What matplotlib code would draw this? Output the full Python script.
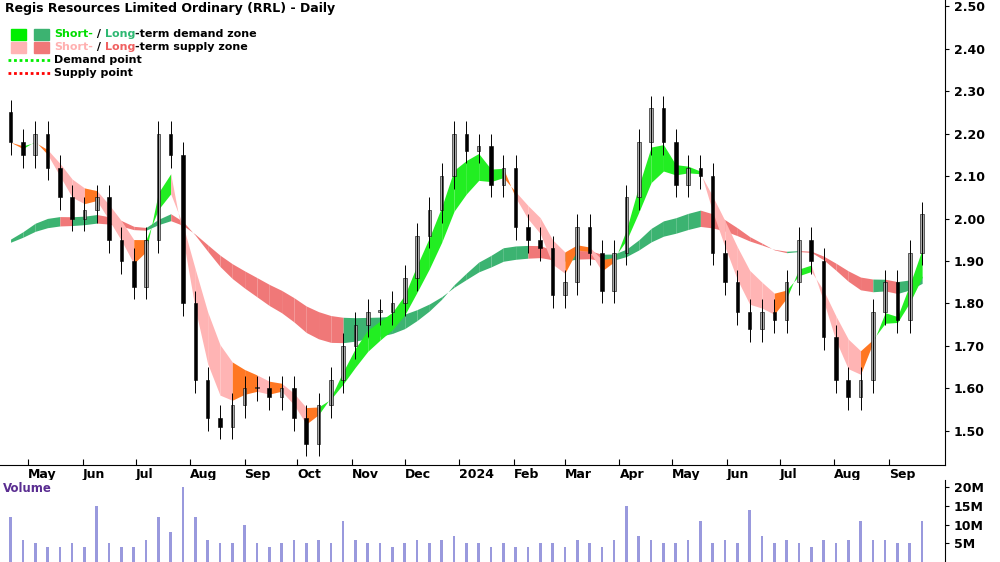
import numpy as np
import pandas as pd
import matplotlib
matplotlib.use("Agg")
import matplotlib.pyplot as plt

# weekly closes, Fridays from 21 Apr 2023
closes = [2.18, 2.15, 2.20, 2.12, 2.05, 2.00, 2.02, 2.05, 1.95, 1.90,
          1.84, 1.95, 2.20, 2.15, 1.80, 1.62, 1.53, 1.51, 1.56, 1.60,
          1.60, 1.58, 1.60, 1.53, 1.47, 1.56, 1.62, 1.70, 1.75, 1.78,
          1.78, 1.80, 1.86, 1.96, 2.02, 2.10, 2.20, 2.16, 2.17, 2.08,
          2.12, 1.98, 1.95, 1.93, 1.82, 1.85, 1.98, 1.92, 1.83, 1.92,
          2.05, 2.18, 2.26, 2.18, 2.08, 2.12, 2.10, 1.92, 1.85, 1.78,
          1.74, 1.78, 1.76, 1.85, 1.95, 1.90, 1.72, 1.62, 1.58, 1.62,
          1.78, 1.85, 1.76, 1.92, 2.01]
volumes = [12, 6, 5, 4, 4, 5, 4, 15, 5, 4,
           4, 6, 12, 8, 20, 12, 6, 5, 5, 10,
           5, 4, 5, 6, 5, 6, 5, 11, 6, 5,
           5, 4, 5, 6, 5, 6, 7, 5, 5, 4,
           5, 4, 4, 5, 5, 4, 6, 5, 4, 6,
           15, 7, 6, 5, 5, 6, 11, 5, 6, 5,
           14, 7, 5, 6, 5, 4, 6, 5, 6, 11,
           6, 6, 5, 5, 11]
long_seed = 1.93
dates = pd.date_range("2023-04-21", periods=len(closes), freq="W-FRI")

c = pd.Series(closes, index=dates)
o = c.shift(1).fillna(2.25)
hi = np.maximum(o, c) + 0.03
lo = np.minimum(o, c) - 0.03

s_fast = c.ewm(span=3, adjust=False).mean()
s_slow = c.ewm(span=6, adjust=False).mean()
seeded = pd.concat([pd.Series([long_seed] * 20), pd.Series(closes)], ignore_index=True)
l_fast = pd.Series(seeded.ewm(span=22, adjust=False).mean().values[20:], index=dates)
l_slow = pd.Series(seeded.ewm(span=34, adjust=False).mean().values[20:], index=dates)

fig = plt.figure(figsize=(10, 5.62), dpi=100)
ax = fig.add_axes([0, 0.173, 0.945, 0.827])
axv = fig.add_axes([0, 0, 0.945, 0.146], sharex=ax)

# long-term zone
for i in range(len(c) - 1):
    seg = dates[i:i + 2]
    rising = l_fast.iloc[i + 1] >= l_fast.iloc[i]
    col = "#3cb371" if rising else "#f07878"
    ax.fill_between(seg, l_fast.iloc[i:i + 2], l_slow.iloc[i:i + 2], color=col, lw=0)

# short-term zone
for i in range(len(c) - 1):
    seg = dates[i:i + 2]
    up = s_fast.iloc[i + 1] >= s_slow.iloc[i + 1]
    if up:
        col = "#22ee22"
    elif s_fast.iloc[i + 1] >= s_fast.iloc[i] or abs(s_fast.iloc[i + 1] - s_slow.iloc[i + 1]) < 0.015:
        col = "#ff7722"
    else:
        col = "#ffb4b4"
    ax.fill_between(seg, s_fast.iloc[i:i + 2], s_slow.iloc[i:i + 2], color=col, lw=0)

# candles
w = 2.0
for d, op, cl, h, l in zip(dates, o, c, hi, lo):
    col = "#aaaaaa" if cl >= op else "black"
    ax.vlines(d, l, h, color="black", lw=0.7)
    ax.bar(d, abs(cl - op) or 0.004, bottom=min(op, cl), width=w,
           color=col, edgecolor="black", lw=0.4)

ax.set_xlim(pd.Timestamp("2023-04-15"), pd.Timestamp("2024-10-03"))
ax.set_ylim(1.42, 2.515)
ax.yaxis.tick_right()
ax.set_yticks(np.arange(1.5, 2.51, 0.1))
ax.yaxis.set_major_formatter(matplotlib.ticker.FormatStrFormatter("%.2f"))
ax.tick_params(axis="y", labelsize=9, direction="out", length=3)
for lab in ax.get_yticklabels():
    lab.set_fontweight("bold")

months = pd.date_range("2023-05-01", "2024-09-01", freq="MS")
ax.set_xticks(months)
ax.set_xticklabels(["2024" if m.month == 1 else m.strftime("%b") for m in months],
                   fontsize=9, fontweight="bold", ha="left")
ax.tick_params(axis="x", direction="in", length=4, pad=2)
plt.setp(axv.get_xticklabels(), visible=False)
for sp in ["top", "left"]:
    ax.spines[sp].set_visible(False)

ax.text(0.005, 0.995, "Regis Resources Limited Ordinary (RRL) - Daily", transform=ax.transAxes,
        fontsize=9, fontweight="bold", va="top")
lx, ly = 0.012, 0.935
ax.add_patch(plt.Rectangle((lx, ly - 0.02), 0.016, 0.022, color="#00ee00", transform=ax.transAxes))
ax.add_patch(plt.Rectangle((lx + 0.024, ly - 0.02), 0.016, 0.022, color="#3cb371", transform=ax.transAxes))
ax.add_patch(plt.Rectangle((lx, ly - 0.048), 0.016, 0.022, color="#ffb4b4", transform=ax.transAxes))
ax.add_patch(plt.Rectangle((lx + 0.024, ly - 0.048), 0.016, 0.022, color="#f07878", transform=ax.transAxes))
ax.plot([lx - 0.004, lx + 0.042], [ly - 0.065] * 2, ls=(0, (1, 1)), color="#00ee00", lw=2, transform=ax.transAxes)
ax.plot([lx - 0.004, lx + 0.042], [ly - 0.092] * 2, ls=(0, (1, 1)), color="red", lw=2, transform=ax.transAxes)
tx = 0.057
fs = 8


def legend_row(y, parts):
    prev = None
    for txt, col in parts:
        if prev is None:
            prev = ax.annotate(txt, (tx, y), xycoords="axes fraction", fontsize=fs,
                               fontweight="bold", color=col, va="center")
        else:
            prev = ax.annotate(txt, (1, 0.5), xycoords=prev, fontsize=fs,
                               fontweight="bold", color=col, va="center")


legend_row(ly - 0.009, [("Short-", "#00dd00"), (" / ", "black"), ("Long", "#2eb872"),
                        ("-term demand zone", "black")])
legend_row(ly - 0.037, [("Short-", "#ffb0b0"), (" / ", "black"), ("Long", "#f06060"),
                        ("-term supply zone", "black")])
legend_row(ly - 0.065, [("Demand point", "black")])
legend_row(ly - 0.092, [("Supply point", "black")])

# volume
axv.bar(dates, volumes, width=1.5, color="#9999dd")
axv.set_ylim(0, 22)
axv.yaxis.tick_right()
axv.set_yticks([5, 10, 15, 20])
axv.set_yticklabels(["5M", "10M", "15M", "20M"], fontsize=9, fontweight="bold")
axv.tick_params(axis="y", direction="out", length=3)
axv.tick_params(axis="x", length=0)
for sp in ["top", "left", "bottom"]:
    axv.spines[sp].set_visible(False)
axv.text(0.003, 0.97, "Volume", transform=axv.transAxes, fontsize=8.5, fontweight="bold",
         color="#5a2d91", va="top")

fig.savefig("out.png", dpi=100)
